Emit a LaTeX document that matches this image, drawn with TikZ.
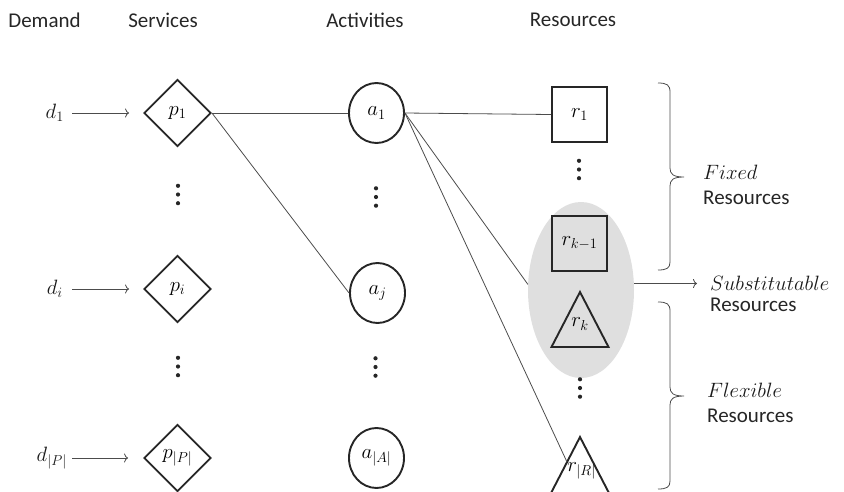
\documentclass[tikz,border=0pt]{standalone}
\usepackage{fontspec}
\setmainfont{Carlito}
\usetikzlibrary{shapes.geometric,arrows.meta}
\tikzset{
  txt/.style={font=\fontsize{21}{25}\selectfont, inner sep=0pt, text=black!85},
  mlbl/.style={font=\fontsize{22}{25}\selectfont, inner sep=0pt, text=black!90},
  shp/.style={draw=black!85, line width=1.9pt},
  conn/.style={draw=black!70, line width=0.8pt},
  arr/.style={conn, -{To[length=4pt,width=9pt]}},
  svc/.style={shp, diamond, minimum width=67pt, minimum height=67pt, inner sep=0pt, font=\fontsize{20.5}{24}\selectfont},
  act/.style={shp, ellipse, minimum width=55pt, minimum height=60pt, inner sep=0pt, font=\fontsize{20.5}{24}\selectfont},
  res/.style={shp, rectangle, minimum width=55pt, minimum height=55pt, inner sep=0pt, font=\fontsize{20.5}{24}\selectfont},
  tlbl/.style={inner sep=0pt, font=\fontsize{20.5}{24}\selectfont},
}
\newcommand{\threedots}[2]{%
  \fill[black!85] (#1,#2-8.7) circle (2.1pt) (#1,#2) circle (2.1pt) (#1,#2+8.7) circle (2.1pt);}
\begin{document}
\begin{tikzpicture}[x=1pt,y=-1pt]
\useasboundingbox (0,0) rectangle (844,491);

% headers
\node[txt] (hd) at (44.5,20) {Demand};
\node[txt] (hs) at (163,20) {Services};
\node[txt] (ha) at (365,20) {Activities};
\node[txt] (hr) at (573,20) {Resources};

% substitutable ellipse
\node[ellipse, fill=gray!25, minimum width=106pt, minimum height=176pt, inner sep=0pt] (ell) at (581,290) {};

% demand
\node[mlbl, anchor=east] (d1) at (64,113) {$d_1$};
\node[mlbl, anchor=east] (di) at (63,289) {$d_i$};
\node[mlbl, anchor=east] (dP) at (67,458) {$d_{|P|}$};

% services
\node[svc] (p1) at (177.5,113) {$p_1$};
\node[svc] (pi) at (177.5,289) {$p_i$};
\node[svc] (pP) at (177.5,458) {$p_{|P|}$};

% activities
\node[act] (a1) at (376.5,113) {$a_1$};
\node[act] (aj) at (377.5,293) {$a_j$};
\node[act] (aA) at (376.5,458) {$a_{|A|}$};

% resources
\node[res] (r1) at (579.5,114.5) {$r_1$};
\node[res] (rk1) at (579.5,243.5) {$r_{k-1}$};
\draw[shp] (580,292) -- (608.5,347) -- (551.5,347) -- cycle;
\node[tlbl] (rk) at (580,324) {$r_k$};
\draw[shp] (580,437) -- (610,495) -- (550,495) -- cycle;
\node[tlbl] (rR) at (581.5,471) {$r_{|R|}$};
\coordinate (rRw) at (567,462);

% dots
\threedots{178}{194.5}
\threedots{376}{197}
\threedots{178}{366.5}
\threedots{375.5}{367}
\threedots{579}{169.5}
\threedots{580}{388}

% demand arrows
\draw[arr, shorten <=8pt, shorten >=14pt] (d1.east) -- (p1.west);
\draw[arr, shorten <=9pt, shorten >=14pt] (di.east) -- (pi.west);
\draw[arr, shorten <=5pt, shorten >=15pt] (dP.east) -- (pP.west);

% connectors
\draw[conn] (p1.east) -- (a1.west);
\draw[conn] (p1.east) -- (aj.west);
\draw[conn] (a1.east) -- (r1.west);
\draw[conn] (a1.east) -- (ell.174);
\draw[conn] (a1.east) -- (rRw);

% substitutable arrow
\coordinate (sub) at (697,283.5);
\draw[arr] (ell.7) -- (sub);

% braces
\draw[conn] (658,83) .. controls (667,83) and (670,85) .. (670,92) -- (670,168)
  .. controls (670,174) and (673,177) .. (684,177)
  .. controls (673,177) and (670,180) .. (670,186) -- (670,262)
  .. controls (670,268) and (667,270) .. (658,270);
\draw[conn] (658,302) .. controls (667,302) and (670,304) .. (670,311) -- (670,387)
  .. controls (670,393) and (673,396) .. (684,396)
  .. controls (673,396) and (670,399) .. (670,405) -- (670,481)
  .. controls (670,487) and (667,489) .. (658,489);

% right-hand labels
\node[mlbl, anchor=west] (fx) at (703,172) {$Fixed$};
\node[txt, anchor=west] (fxr) at (703,198) {Resources};
\node[mlbl, anchor=west] (sb) at (710,283) {$Substitutable$};
\node[txt, anchor=west] (sbr) at (710,305) {Resources};
\node[mlbl, anchor=west] (fl) at (707,390) {$Flexible$};
\node[txt, anchor=west] (flr) at (707,416) {Resources};
\end{tikzpicture}
\end{document}
